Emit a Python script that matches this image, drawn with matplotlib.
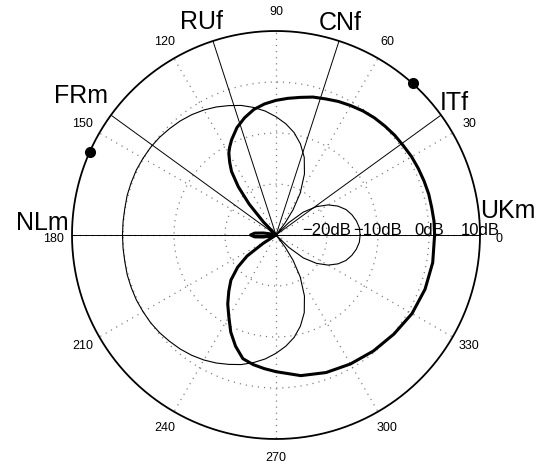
import numpy as np
import matplotlib
matplotlib.use('Agg')
import matplotlib.pyplot as plt
from matplotlib.transforms import offset_copy

plt.rcParams['font.family'] = ['Liberation Sans', 'DejaVu Sans']
plt.rcParams['lines.scale_dashes'] = False

# ---------------- data ----------------
DB_MIN, DB_MAX = -30, 10
ring_db = [-20, -10, 0]
ring_label_db = [-20, -10, 0, 10]
ring_labels = ['\u221220dB', '\u221210dB', '0dB', '10dB']
angle_ticks = list(range(0, 360, 30))
direction_names = ['UKm', 'ITf', 'CNf', 'RUf', 'FRm', 'NLm']
direction_angles = [0, 36, 72, 108, 144, 180]
marker_angles = [48, 156]

thin_theta = [0, 5, 10, 15, 20, 25, 30, 35, 40, 44, 47, 50, 53, 56, 60, 65, 70, 75,
              80, 85, 90, 95, 100, 105, 110, 115, 120, 125, 130, 135, 140, 145, 150,
              155, 160, 165, 170, 175, 180, 185, 190, 195, 200, 205, 210, 215, 220,
              225, 230, 235, 240, 245, 250, 255, 260, 265, 270, 275, 280, 285, 290,
              295, 300, 304, 307, 310, 313, 316, 320, 325, 330, 335, 340, 345, 350,
              355, 360]
thin_db = [-13.5, -13.6, -14.0, -14.6, -15.4, -16.6, -18.2, -20.3, -23.0, -26.5, -30, -30,
           -27.0, -24.0, -20.5, -16.8, -13.8, -11.5, -9.6, -8.1, -6.8, -5.6, -4.6, -3.7,
           -3.0, -2.3, -1.7, -1.2, -0.8, -0.5, -0.2, 0.0, 0.1, 0.2, 0.2, 0.2, 0.1, 0.1,
           0.1, 0.1, 0.1, 0.2, 0.2, 0.2, 0.1, 0.0, -0.2, -0.5, -0.8, -1.2, -1.7, -2.3,
           -3.0, -3.7, -4.6, -5.6, -6.8, -8.1, -9.6, -11.5, -13.8, -16.8, -20.5, -24.0,
           -27.0, -30, -30, -26.5, -23.0, -20.3, -18.2, -16.6, -15.4, -14.6, -14.0,
           -13.6, -13.5]

thick_theta = [0, 5, 10, 15, 20, 25, 30, 35, 40, 45, 50, 55, 60, 65, 70, 75, 80, 85, 90,
               95, 100, 105, 110, 115, 118, 120, 122.5, 125, 128, 131, 134, 136, 165, 168,
               171, 175, 180, 185, 189, 192, 195, 210, 213, 216, 220, 225, 230, 235, 240,
               245, 250, 255, 260, 265, 270, 280, 290, 300, 310, 320, 330, 340, 350, 360]
thick_db = [1.1, 1.1, 1.0, 1.0, 0.9, 0.8, 0.7, 0.5, 0.4, 0.2, 0.0, -0.3, -0.7, -1.1, -1.6,
            -2.0, -2.6, -3.1, -3.6, -4.2, -5.0, -6.2, -7.6, -9.4, -10.6, -11.5, -13.1,
            -14.8, -18.0, -22.0, -26.5, -30, -30, -29.0, -27.5, -25.8, -25.0, -25.8,
            -27.5, -29.0, -30, -30, -27.0, -23.0, -20.2, -17.5, -15.6, -13.5, -11.5,
            -9.0, -6.8, -4.9, -4.2, -3.7, -3.2, -2.0, -1.3, -0.8, -0.3, 0.2, 0.8, 1.1,
            1.2, 1.1]

# ---------------- figure ----------------
W, H = 542, 465
fig = plt.figure(figsize=(W / 100, H / 100), dpi=100)
cx, cy, R = 276, 235, 204
ax = fig.add_axes([(cx - R) / W, (H - cy - R) / H, 2 * R / W, 2 * R / H],
                  projection='polar')
ax.set_ylim(0, DB_MAX - DB_MIN)
ax.grid(False)
ax.set_xticks([])
ax.set_yticks([])
ax.spines['polar'].set_visible(False)
ax.patch.set_visible(False)

rmax = DB_MAX - DB_MIN
full = np.linspace(0, 2 * np.pi, 721)

def to_r(vals):
    return np.clip(np.asarray(vals, float) - DB_MIN, 0, None)

# dotted grid
dot = dict(color='0.45', lw=0.9, linestyle=(0, (0.8, 3.6)))
for d in ring_db:
    ax.plot(full, np.full_like(full, d - DB_MIN), **dot, zorder=1)
for a in angle_ticks:
    ax.plot([np.deg2rad(a)] * 2, [0, rmax], **dot, zorder=1)

# outer circle
ax.plot(full, np.full_like(full, rmax), color='black', lw=1.3, zorder=3, clip_on=False)

# direction spokes
for a in direction_angles:
    ax.plot([np.deg2rad(a)] * 2, [0, rmax], color='black', lw=0.7, zorder=2)

# patterns
ax.plot(np.deg2rad(thin_theta), to_r(thin_db), color='black', lw=0.8, zorder=4)
ax.plot(np.deg2rad(thick_theta), to_r(thick_db), color='black', lw=2.2, zorder=5)

# source markers
ax.plot(np.deg2rad(marker_angles), [rmax] * len(marker_angles), 'o', color='black',
        ms=7, zorder=6, clip_on=False)

# angle labels
low = offset_copy(ax.transData, fig=fig, x=0, y=-4, units='dots')
for a in angle_ticks:
    tr = low if a in (0, 180) else ax.transData
    ax.text(np.deg2rad(a), 43.7, str(a), ha='center', va='center', fontsize=9,
            transform=tr)

# dB labels
for d, s in zip(ring_label_db, ring_labels):
    ax.text(0, d - DB_MIN, s, ha='center', va='baseline', fontsize=12, zorder=7)

# direction labels (baseline positions: angle deg, radius units)
label_pos = [(4.2, 45.6), (35.1, 42.65), (72.7, 42.2), (109.8, 42.9), (145.9, 46.1),
             (178.8, 45.9)]
for name, (th, rr) in zip(direction_names, label_pos):
    ax.text(np.deg2rad(th), rr, name, ha='center', va='baseline', fontsize=18)

fig.savefig('out.png', dpi=100)
